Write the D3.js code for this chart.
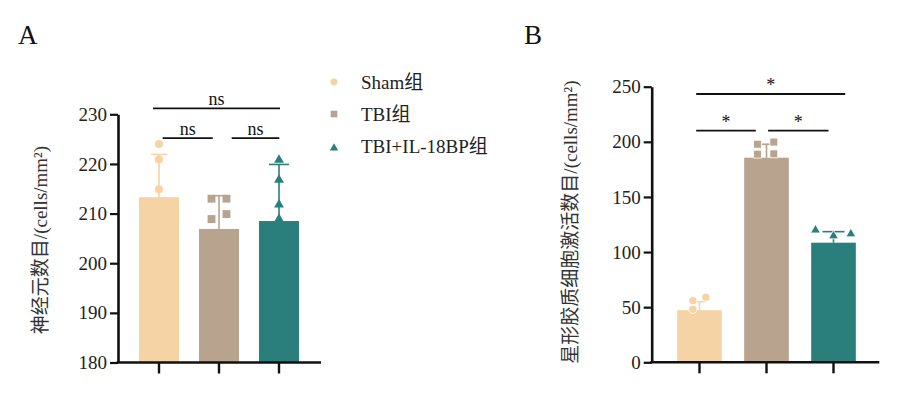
<!DOCTYPE html>
<html><head><meta charset="utf-8">
<script src="https://cdn.jsdelivr.net/npm/d3@7"></script>
<style>
html,body{margin:0;padding:0;background:#fff;}
svg text{font-family:"Liberation Serif","Times New Roman",Tinos,Times,"DejaVu Serif","Noto Sans CJK SC",serif !important;}
</style></head>
<body>
<svg id="chart" width="900" height="394"></svg>
<script>
// ---------- data ----------
const groups = ["Sham组", "TBI组", "TBI+IL-18BP组"];
const groupColors = ["#F6D3A5", "#B8A38F", "#2A7F7D"];

// Panel A: neurons
const neuronMean = [213.3, 206.9, 208.5];
const neuronSD   = [8.6, 6.7, 11.4];
const neuronShamPts = [224.0, 220.9, 214.9];
const neuronTBIPts  = [213.0, 213.0, 208.9, 209.9];
const neuronILPts   = [220.8, 216.8, 211.8, 208.9];
const neuronTicks   = [180, 190, 200, 210, 220, 230];
const neuronSig     = ["ns", "ns", "ns"];

// Panel B: activated astrocytes
const astroMean = [47.3, 185.6, 108.5];
const astroSD   = [7.7, 12.2, 10.0];
const astroShamPts = [55.9, 59.0, 48.1];
const astroTBIPts  = [197.8, 199.8, 188.8, 189.1];
const astroILPts   = [119.9, 114.6, 116.4];
const astroTicks   = [0, 50, 100, 150, 200, 250];
const astroSig     = ["*", "*", "*"];

// ---------- layout (pixels) ----------
const svg = d3.select("#chart");
const symbols = [d3.symbolCircle, d3.symbolSquare, d3.symbolTriangle];
const symSize = [52, 62, 42];

function panel(cfg) {
  const g = svg.append("g");
  const x = d3.scaleBand().domain(groups).range(cfg.xr).paddingInner(1/3).paddingOuter(1/6);
  const y = d3.scaleLinear().domain(cfg.domain).range(cfg.yr);
  const cx = i => x(groups[i]) + x.bandwidth() / 2;

  g.selectAll("rect.bar").data(cfg.mean).join("rect")
    .attr("x", (d, i) => x(groups[i]))
    .attr("width", x.bandwidth())
    .attr("y", d => y(d))
    .attr("height", d => y(cfg.domain[0]) - y(d))
    .attr("fill", (d, i) => groupColors[i]);

  cfg.mean.forEach((m, i) => {
    const top = y(m + cfg.sd[i]);
    g.append("line").attr("x1", cx(i)).attr("x2", cx(i)).attr("y1", y(m)).attr("y2", top)
      .attr("stroke", groupColors[i]).attr("stroke-width", 1.6);
    g.append("line").attr("x1", cx(i) - cfg.cap[i] / 2).attr("x2", cx(i) + cfg.cap[i] / 2)
      .attr("y1", top).attr("y2", top)
      .attr("stroke", groupColors[i]).attr("stroke-width", 1.6);
  });

  cfg.pts.forEach((arr, i) => {
    g.selectAll(null).data(arr).join("path")
      .attr("d", d3.symbol(symbols[i], symSize[i]))
      .attr("transform", (d, j) => `translate(${cx(i) + cfg.jit[i][j]},${y(d)})`)
      .attr("fill", groupColors[i])
      .attr("stroke", cfg.ptStroke ? "#fff" : "none")
      .attr("stroke-width", 0.8);
  });

  const ya = g.append("g").attr("transform", `translate(${cfg.axisX},0)`)
    .call(d3.axisLeft(y).tickValues(cfg.ticks).tickSize(8).tickSizeOuter(0).tickPadding(3));
  ya.attr("font-family", null).attr("font-size", null);
  ya.select(".domain").attr("stroke", "#111").attr("stroke-width", 2.6);
  ya.selectAll(".tick line").attr("stroke", "#111").attr("stroke-width", 2.2);
  ya.selectAll(".tick text").attr("font-size", 19).attr("fill", "#222");

  const xa = g.append("g").attr("transform", `translate(0,${y(cfg.domain[0])})`)
    .call(d3.axisBottom(x).tickSize(11).tickFormat(""));
  xa.select(".domain").remove();
  xa.selectAll(".tick line").attr("stroke", "#111").attr("stroke-width", 2.4);
  g.append("line").attr("x1", cfg.axisX - 1.3).attr("x2", cfg.axisEnd)
    .attr("y1", y(cfg.domain[0])).attr("y2", y(cfg.domain[0]))
    .attr("stroke", "#111").attr("stroke-width", 2.6);

  cfg.brackets.forEach((b, k) => {
    const x1 = cx(b.a) + b.o1, x2 = cx(b.b) + b.o2, yy = y(b.v);
    g.append("line").attr("x1", x1).attr("x2", x2).attr("y1", yy).attr("y2", yy)
      .attr("stroke", "#111").attr("stroke-width", 1.8);
    g.append("text").attr("x", (x1 + x2) / 2).attr("y", yy - b.dy)
      .attr("text-anchor", "middle").attr("font-size", cfg.sigSize).attr("fill", "#111")
      .text(cfg.sig[k]);
  });

  g.append("text")
    .attr("transform", `translate(${cfg.labX},${cfg.labY}) rotate(-90)`)
    .attr("text-anchor", "middle").attr("font-size", 19).attr("fill", "#333")
    .text(cfg.label);

  g.append("text").attr("x", cfg.letterX).attr("y", 44).attr("font-size", 27).attr("fill", "#111")
    .text(cfg.letter);
}

panel({
  xr: [129, 309], yr: [362.5, 114.3], domain: [180, 230],
  mean: neuronMean, sd: neuronSD, cap: [16, 14, 20],
  pts: [neuronShamPts, neuronTBIPts, neuronILPts],
  jit: [[0, 0, 0], [-7.5, 7.5, -7.5, 7.5], [0, 0, 0, 0]],
  ptStroke: false,
  ticks: neuronTicks, axisX: 118, axisEnd: 321,
  brackets: [
    {a: 0, b: 2, o1: -6, o2: 1, v: 231.2, dy: 3},
    {a: 0, b: 1, o1: 3.7, o2: -6.3, v: 225.2, dy: 3},
    {a: 1, b: 2, o1: 12.7, o2: 0.3, v: 225.2, dy: 3}
  ],
  sig: neuronSig, sigSize: 18,
  label: "神经元数目/(cells/mm²)", labX: 47, labY: 240,
  letter: "A", letterX: 18
});

panel({
  xr: [666, 867], yr: [362.3, 86.7], domain: [0, 250],
  mean: astroMean, sd: astroSD, cap: [12, 10, 22],
  pts: [astroShamPts, astroTBIPts, astroILPts],
  jit: [[-6.6, 6.4, -6.6], [-9, 7.3, -9, 7.3], [-18, 0, 17.4]],
  ptStroke: true,
  ticks: astroTicks, axisX: 651.7, axisEnd: 879.3,
  brackets: [
    {a: 0, b: 2, o1: -3.3, o2: 11.7, v: 243.4, dy: 3},
    {a: 0, b: 1, o1: -3.3, o2: -10.7, v: 210.1, dy: 3},
    {a: 1, b: 2, o1: 1.6, o2: -5, v: 210.1, dy: 3}
  ],
  sig: astroSig, sigSize: 18,
  label: "星形胶质细胞激活数目/(cells/mm²)", labX: 577, labY: 222,
  letter: "B", letterX: 524
});

const legendRows = [82, 114, 146];
const lg = svg.append("g");
groups.forEach((name, i) => {
  lg.append("path").attr("d", d3.symbol(symbols[i], [38, 44, 30][i]))
    .attr("transform", `translate(334,${legendRows[i] + (i === 2 ? 2 : 0)})`)
    .attr("fill", groupColors[i]);
  lg.append("text").attr("x", 361).attr("y", legendRows[i] + 6.5)
    .attr("font-size", 19).attr("fill", "#222").text(name);
});
</script>
</body></html>
